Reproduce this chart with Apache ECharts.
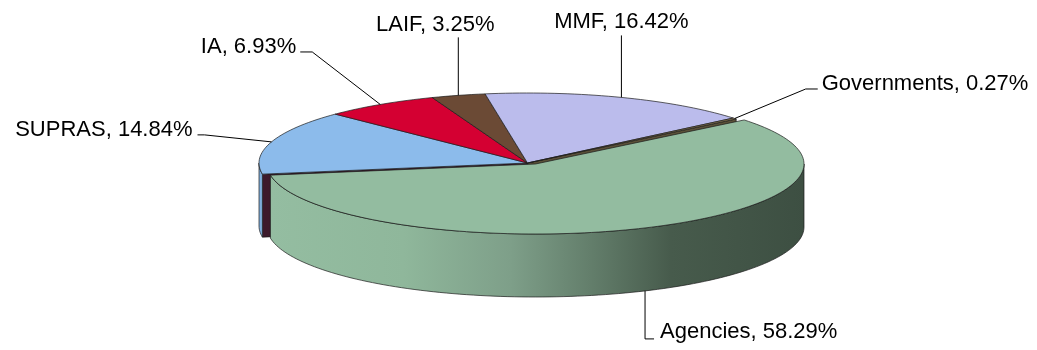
<!DOCTYPE html>
<html>
<head>
<meta charset="utf-8">
<script src="https://cdn.jsdelivr.net/npm/echarts@6/dist/echarts.min.js"></script>
<style>
  html, body { margin: 0; padding: 0; background: #ffffff; }
  #chart { width: 1037px; height: 350px; }
</style>
</head>
<body>
<div id="chart"></div>
<script>
// Portfolio allocation by sector (percent of total)
const categories = ['Agencies', 'SUPRAS', 'IA', 'LAIF', 'MMF', 'Governments'];
const shares = [58.29, 14.84, 6.93, 3.25, 16.42, 0.27];

// Look of each slice: top face, cut face and outer wall
const topColors = {
  Agencies: '#93BCA0', SUPRAS: '#8CBBEB', IA: '#D40032',
  LAIF: '#6B4A35', MMF: '#BBBCEC', Governments: '#8C7A52'
};
const cutColors = {
  Agencies: '#3E5244', SUPRAS: '#3D1A2C', IA: '#6A0019',
  LAIF: '#35251B', MMF: '#4A4E6A', Governments: '#5A5038'
};
const wallColors = {
  Agencies: new echarts.graphic.LinearGradient(0, 0, 1, 0, [
    { offset: 0, color: '#94BDA1' },
    { offset: 0.25, color: '#8FB79B' },
    { offset: 0.45, color: '#7E9F89' },
    { offset: 0.6, color: '#637E6B' },
    { offset: 0.75, color: '#475B4C' },
    { offset: 1, color: '#3D4F42' }
  ]),
  SUPRAS: '#7FAEDD', IA: '#A00026', LAIF: '#513727', MMF: '#8F90BA', Governments: '#6A5C3C'
};

// Tilted disc: centre, radii of the top ellipse, wall height
const disc = { cx: 527.5, cy: 163, rx: 268.5, ry: 70, depth: 63, startDeg: -39 };
// Pulled-out slice, screen shift in px
const explodeShift = { Agencies: [8, 1] };

// Leader-line bends and text placement, relative to each slice's anchor point
const labelLayout = {
  Agencies:    { path: [[0, 48], [9, 48]],           text: [15, 41],     align: 'left' },
  SUPRAS:      { path: [[-67, -7], [-74, -7]],       text: [-79, -12],   align: 'right' },
  IA:          { path: [[-68, -52.5], [-80, -52.5]], text: [-84, -57.5], align: 'right' },
  LAIF:        { path: [[0, -58]],                   text: [-23, -70],   align: 'center' },
  MMF:         { path: [[0, -62]],                   text: [0, -75],     align: 'center' },
  Governments: { path: [[71, -29.5], [83, -29.5]],   text: [87, -34.5],  align: 'left' }
};

const RAD = Math.PI / 180;
const total = shares.reduce((a, b) => a + b, 0);
const bounds = [];
let acc = disc.startDeg;
shares.forEach(v => {
  const sweep = v / total * 360;
  bounds.push([acc, acc + sweep]);
  acc += sweep;
});

function point(t, off, down) {
  return [
    disc.cx + off[0] + disc.rx * Math.cos(t * RAD),
    disc.cy + off[1] + disc.ry * Math.sin(t * RAD) + (down ? disc.depth : 0)
  ];
}
function arc(a0, a1, off, down) {
  const n = Math.max(2, Math.ceil(Math.abs(a1 - a0) / 1.5));
  const pts = [];
  for (let k = 0; k <= n; k++) pts.push(point(a0 + (a1 - a0) * k / n, off, down));
  return pts;
}

function renderSlice(params, api) {
  const i = params.dataIndex;
  const n = categories.length;
  const name = categories[i];
  const [a0, a1] = bounds[i];
  const mid = (a0 + a1) / 2;
  const off = explodeShift[name] || [0, 0];
  const apexTop = [disc.cx + off[0], disc.cy + off[1]];
  const apexBot = [apexTop[0], apexTop[1] + disc.depth];
  const edge = { stroke: '#1b1b1b', lineWidth: 0.7, lineJoin: 'round' };
  const children = [];

  // cut faces: only where a neighbour is pulled out, and only if facing the viewer
  const prev = categories[(i - 1 + n) % n], next = categories[(i + 1) % n];
  [[a0, a0 - 90, prev], [a1, a1 + 90, next]].forEach(([a, nrm, other]) => {
    const opened = explodeShift[name] || explodeShift[other];
    if (opened && Math.sin(nrm * RAD) > 0) {
      const rt = point(a, off, false), rb = point(a, off, true);
      children.push({
        type: 'polygon', z2: 1,
        shape: { points: [apexTop, rt, rb, apexBot] },
        style: Object.assign({ fill: cutColors[name] }, edge)
      });
    }
  });

  // outer wall on the front half of the disc
  for (let k = -1; k <= 1; k++) {
    const s = Math.max(a0, k * 360), t = Math.min(a1, k * 360 + 180);
    if (t > s) {
      const pts = arc(s, t, off, false).concat(arc(t, s, off, true));
      children.push({
        type: 'polygon', z2: explodeShift[name] ? 3 : 2,
        shape: { points: pts },
        style: Object.assign({ fill: wallColors[name] }, edge)
      });
    }
  }

  // top face
  children.push({
    type: 'polygon', z2: 4,
    shape: { points: [apexTop].concat(arc(a0, a1, off, false)) },
    style: Object.assign({ fill: topColors[name] }, edge)
  });

  // data label with leader line
  const front = Math.sin(mid * RAD) > 0.5;
  const anchor = point(mid, off, front);
  const lay = labelLayout[name];
  const linePts = [anchor].concat(lay.path.map(p => [anchor[0] + p[0], anchor[1] + p[1]]));
  children.push({
    type: 'polyline', z2: 10,
    shape: { points: linePts },
    style: { stroke: '#000000', lineWidth: 1, fill: null }
  });
  children.push({
    type: 'text', z2: 11,
    style: {
      text: name + ', ' + api.value(0).toFixed(2) + '%',
      x: anchor[0] + lay.text[0], y: anchor[1] + lay.text[1],
      align: lay.align, verticalAlign: 'middle',
      fill: '#000000', fontSize: 22, fontFamily: '"Liberation Sans", Arial, sans-serif'
    }
  });

  return { type: 'group', children: children };
}

const chart = echarts.init(document.getElementById('chart'), null, { renderer: 'canvas' });
chart.setOption({
  animation: false,
  backgroundColor: '#ffffff',
  series: [{
    type: 'custom',
    coordinateSystem: 'none',
    renderItem: renderSlice,
    data: shares.map((v, i) => ({ name: categories[i], value: [v] }))
  }]
});
</script>
</body>
</html>
